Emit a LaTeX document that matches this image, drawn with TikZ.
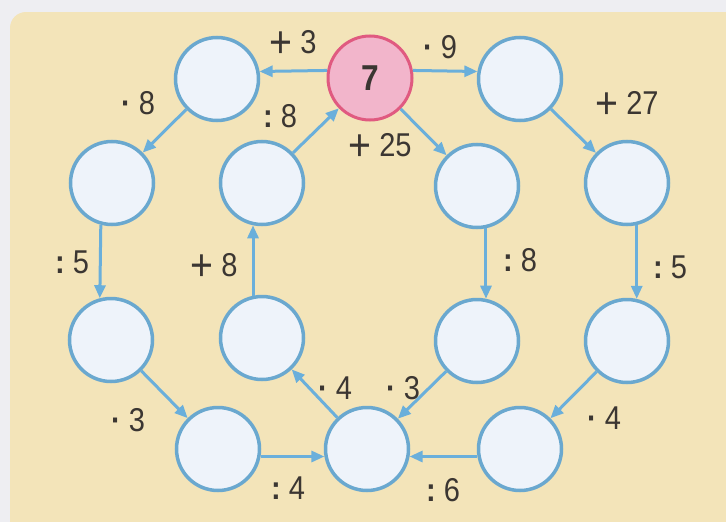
\documentclass[tikz,border=0pt]{standalone}
\usepackage{graphicx}
\usepackage{fontspec}
\setmainfont[FakeStretch=0.88]{Liberation Sans}
\usetikzlibrary{arrows.meta}
\definecolor{bgout}{HTML}{EEEEF2}
\definecolor{panel}{HTML}{F3E4B9}
\definecolor{cblue}{HTML}{6AA8CF}
\definecolor{cfill}{HTML}{EEF3FA}
\definecolor{ablue}{HTML}{6AAFDB}
\definecolor{pinkfill}{HTML}{F2B5CB}
\definecolor{pinkline}{HTML}{E05A80}
\definecolor{txt}{HTML}{3B3632}
\newcommand\bigplus{\raisebox{-3.5pt}{\scalebox{1.35}{+}}}
\newcommand\mdot{\textbf{·}}
\newcommand\cln{\textbf{:}}
\begin{document}
\begin{tikzpicture}[x=1pt,y=-1pt,
  circ/.style={circle,draw=cblue,fill=cfill,line width=3.5pt,minimum size=83pt,inner sep=0pt},
  startc/.style={circle,draw=pinkline,fill=pinkfill,line width=3pt,minimum size=84pt,inner sep=0pt,
    font=\fontsize{36}{36}\selectfont\bfseries,text=txt},
  op/.style={font=\fontsize{33}{33}\selectfont,text=txt,inner sep=0pt},
  arr/.style={draw=ablue,line width=3pt,-{Triangle[length=13pt,width=11pt]}}]
\clip (0,0) rectangle (726,522);
\fill[bgout] (0,0) rectangle (726,522);
\fill[panel,rounded corners=16pt] (10,12) rectangle (760,560);

% circles
\node[circ] (A) at (217,79) {};
\node[startc] (P) at (370,78) {7};
\node[circ] (B) at (520,79) {};
\node[circ] (C) at (112,183) {};
\node[circ] (D) at (262,183) {};
\node[circ] (E) at (477,186) {};
\node[circ] (F) at (627,183) {};
\node[circ] (G) at (111,340) {};
\node[circ] (H) at (262,338) {};
\node[circ] (I) at (477,341) {};
\node[circ] (J) at (627,341) {};
\node[circ] (K) at (218,449) {};
\node[circ] (L) at (367,449) {};
\node[circ] (M) at (520,449) {};

% connectors
\draw[arr] (P.170) -- (A.10);
\draw[arr] (P.10) -- (B.170);
\draw[arr] (A) -- (C);
\draw[arr] (C.255) -- (G.105);
\draw[arr] (G) -- (K);
\draw[arr] (K.-10) -- (L.190);
\draw[arr] (M.190) -- (L.-10);
\draw[arr] (J) -- (M);
\draw[arr] (F.-77) -- (J.77);
\draw[arr] (B) -- (F);
\draw[arr] (P) -- (E);
\draw[arr] (E.-78) -- (I.78);
\draw[arr] (I) -- (L);
\draw[arr] (L) -- (H);
\draw[arr] (H.102) -- (D.258);
\draw[arr] (D) -- (P);

% labels
\node[op] (l1) at (293,44) {\bigplus\ 3};
\node[op] (l2) at (440,47) {\mdot\ 9};
\node[op] (l3) at (280,116) {\cln\ 8};
\node[op] (l4) at (380,147) {\bigplus\ 25};
\node[op] (l5) at (138,103) {\mdot\ 8};
\node[op] (l6) at (627,105) {\bigplus\ 27};
\node[op] (l7) at (72,262) {\cln\ 5};
\node[op] (l8) at (670,267) {\cln\ 5};
\node[op] (l9) at (520,260) {\cln\ 8};
\node[op] (l10) at (214,267) {\bigplus\ 8};
\node[op] (l11) at (128,420) {\mdot\ 3};
\node[op] (l12) at (288,488) {\cln\ 4};
\node[op] (l13) at (335,388) {\mdot\ 4};
\node[op] (l14) at (403,388) {\mdot\ 3};
\node[op] (l15) at (443,490) {\cln\ 6};
\node[op] (l16) at (604,418) {\mdot\ 4};
\end{tikzpicture}
\end{document}
